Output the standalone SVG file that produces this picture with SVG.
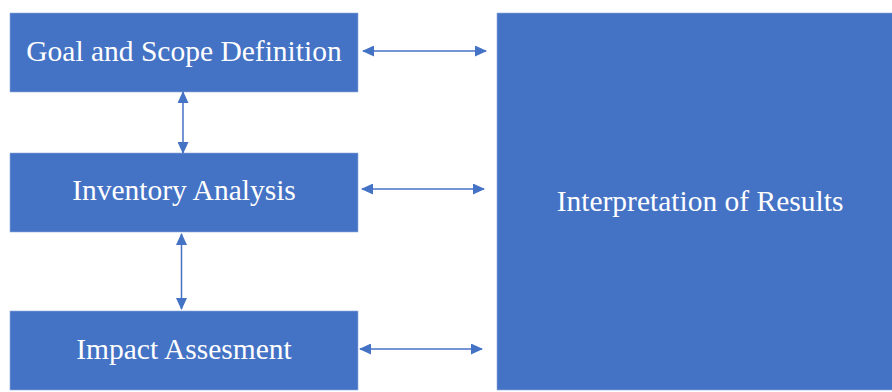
<svg xmlns="http://www.w3.org/2000/svg" width="892" height="392" viewBox="0 0 892 392">
<style>
.box{fill:#4472C4;stroke:#8FAADC;stroke-width:0.6}
.lbl{font-family:"Liberation Serif","Times New Roman",serif;font-size:29.5px;fill:#ffffff;text-anchor:middle}
.con{stroke:#4472C4;stroke-width:1.5;fill:none;marker-start:url(#ah);marker-end:url(#ah)}
</style>
<defs>
<marker id="ah" viewBox="0 0 12 11" refX="11" refY="5.5" markerWidth="12" markerHeight="11" markerUnits="userSpaceOnUse" orient="auto-start-reverse">
<path d="M0,0 L12,5.5 L0,11 z" fill="#4472C4"/>
</marker>
</defs>
<g id="goal"><rect class="box" x="10" y="13" width="348" height="79"/><text class="lbl" x="184" y="61">Goal and Scope Definition</text></g>
<g id="inventory"><rect class="box" x="10" y="153" width="348" height="79"/><text class="lbl" x="184" y="200">Inventory Analysis</text></g>
<g id="impact"><rect class="box" x="10" y="311" width="348" height="79"/><text class="lbl" x="184" y="359">Impact Assesment</text></g>
<g id="interpretation"><rect class="box" x="497" y="13" width="396" height="377"/><text class="lbl" x="700" y="211">Interpretation of Results</text></g>
<g id="connectors">
<line class="con" x1="363" y1="51" x2="486" y2="51"/>
<line class="con" x1="362" y1="189" x2="484" y2="189"/>
<line class="con" x1="360" y1="349" x2="482" y2="349"/>
<line class="con" x1="183" y1="92" x2="183" y2="153"/>
<line class="con" x1="181.5" y1="234" x2="181.5" y2="309"/>
</g>
</svg>
